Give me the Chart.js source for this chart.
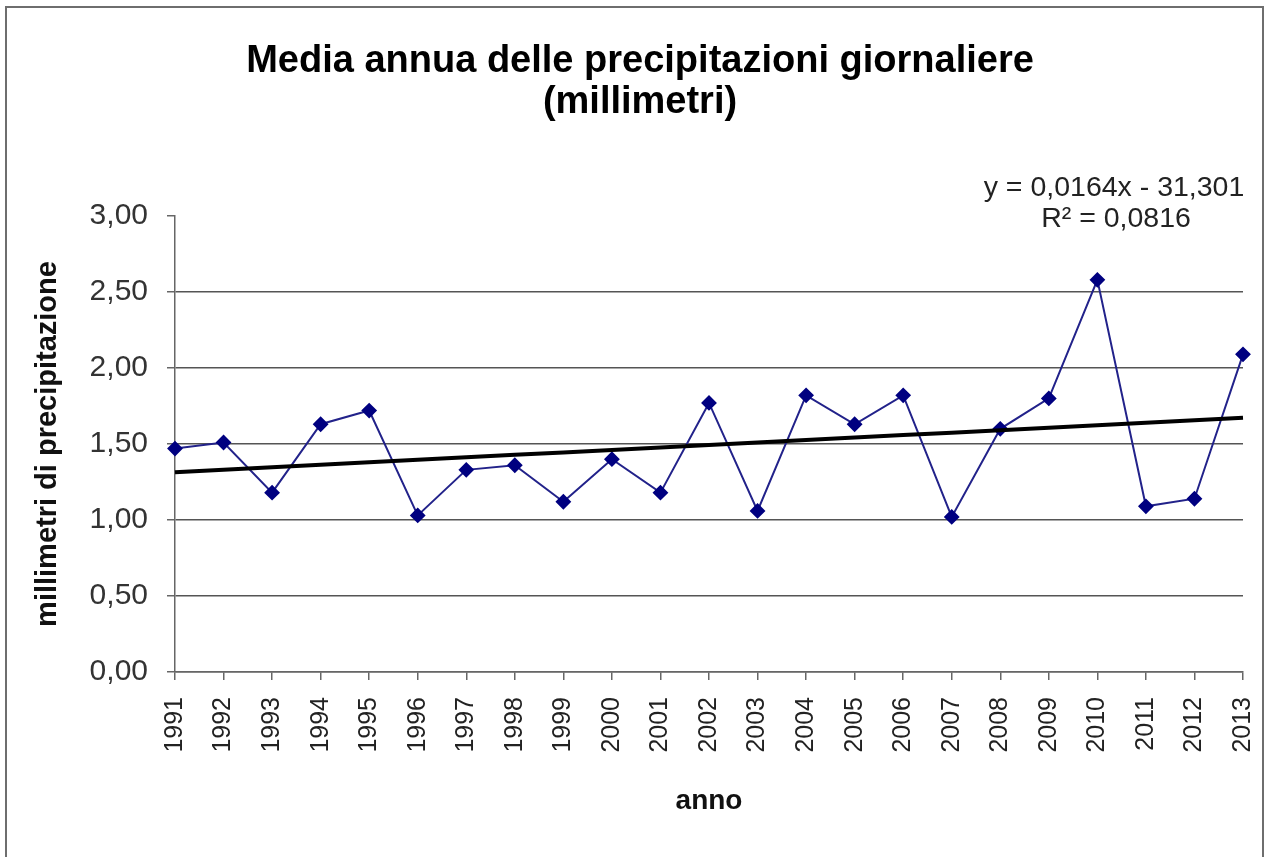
<!DOCTYPE html>
<html>
<head>
<meta charset="utf-8">
<script src="https://cdn.jsdelivr.net/npm/chart.js@4.4.0/dist/chart.umd.min.js"></script>
<style>
  html, body { margin: 0; padding: 0; background: #fff; overflow: hidden; }
  #wrap { position: relative; width: 1268px; height: 857px; }
  #frame { position: absolute; left: 5px; top: 6px; width: 1255px; height: 900px; border: 2px solid #6e6e6e; pointer-events: none; }
</style>
</head>
<body>
<div id="wrap">
  <canvas id="rain-chart" width="1268" height="857"></canvas>
  <div id="frame"></div>
</div>
<script>
// dati
const years = ['1991', '1992', '1993', '1994', '1995', '1996', '1997', '1998', '1999', '2000', '2001', '2002',
               '2003', '2004', '2005', '2006', '2007', '2008', '2009', '2010', '2011', '2012', '2013'];
const rainfall = [1.47, 1.51, 1.18, 1.63, 1.72, 1.03, 1.33, 1.36, 1.12, 1.40, 1.18, 1.77,
                  1.06, 1.82, 1.63, 1.82, 1.02, 1.60, 1.80, 2.58, 1.09, 1.14, 2.09];
const yTickLabels = ['0,00', '0,50', '1,00', '1,50', '2,00', '2,50', '3,00'];
const titleLines = ['Media annua delle precipitazioni giornaliere', '(millimetri)'];
const equationLines = ['y = 0,0164x - 31,301', 'R² = 0,0816'];

const FONT = '"Liberation Sans", Arial, sans-serif';
Chart.defaults.font.family = FONT;

// linea di tendenza (minimi quadrati sui dati)
function linearTrend(values) {
    const n = values.length;
    const mx = (n - 1) / 2;
    const my = values.reduce((a, b) => a + b, 0) / n;
    let num = 0, den = 0;
    values.forEach((v, i) => { num += (i - mx) * (v - my); den += (i - mx) * (i - mx); });
    const slope = num / den;
    return values.map((v, i) => my + slope * (i - mx));
}

const textPlugin = {
    id: 'textPlugin',
    afterDraw(chart) {
        const ctx = chart.ctx;
        ctx.save();
        ctx.textAlign = 'center';
        ctx.textBaseline = 'middle';
        ctx.fillStyle = '#000';
        ctx.font = 'bold 38px ' + FONT;
        ctx.fillText(titleLines[0], 640, 62);
        ctx.fillText(titleLines[1], 640, 103);
        ctx.fillStyle = '#222';
        ctx.font = '28.5px ' + FONT;
        ctx.fillText(equationLines[0], 1114, 188);
        ctx.fillText(equationLines[1], 1116, 219);
        ctx.restore();
    }
};

const ctx = document.getElementById('rain-chart');

new Chart(ctx, {
    type: 'line',
    data: {
        labels: years,
        datasets: [{
            label: 'tendenza',
            data: linearTrend(rainfall),
            borderColor: '#000',
            borderWidth: 4,
            pointRadius: 0,
            order: 0
        }, {
            label: 'precipitazioni',
            data: rainfall,
            borderColor: '#22228a',
            borderWidth: 2,
            tension: 0,
            pointStyle: 'rectRot',
            pointRadius: 6.5,
            pointBackgroundColor: '#000080',
            pointBorderColor: '#000080',
            order: 1
        }]
    },
    options: {
        responsive: false,
        animation: false,
        layout: { padding: { top: 216, right: 25, bottom: 0, left: 0 } },
        plugins: {
            legend: { display: false },
            tooltip: { enabled: false }
        },
        scales: {
            x: {
                offset: false,
                grid: { drawOnChartArea: false, drawTicks: true, tickLength: 8, color: '#666', lineWidth: 1.5 },
                border: { color: '#666', width: 1.5 },
                ticks: { minRotation: 90, maxRotation: 90, autoSkip: false, padding: 17, color: '#222', font: { size: 25 } },
                title: { display: true, text: 'anno', color: '#111', font: { size: 28, weight: 'bold' }, padding: { top: 0, bottom: 39 } },
                afterFit(scale) {
                    scale.height = 185;
                    scale.paddingLeft = 0;
                    scale.paddingRight = 0;
                }
            },
            y: {
                min: 0,
                max: 3,
                ticks: {
                    stepSize: 0.5,
                    padding: 19,
                    color: '#333',
                    font: { size: 30 },
                    callback: (v, i) => yTickLabels[i]
                },
                grid: {
                    color: c => (c.tick && c.tick.value === 3) ? 'rgba(0,0,0,0)' : '#555',
                    tickColor: '#666',
                    tickLength: 8,
                    lineWidth: 1.5
                },
                border: { color: '#666', width: 1.5 },
                title: { display: true, text: 'millimetri di precipitazione', color: '#111', font: { size: 29, weight: 'bold' }, padding: { top: 31, bottom: 0 } },
                afterFit(scale) { scale.width = 175; }
            }
        }
    },
    plugins: [textPlugin]
});
</script>
</body>
</html>
